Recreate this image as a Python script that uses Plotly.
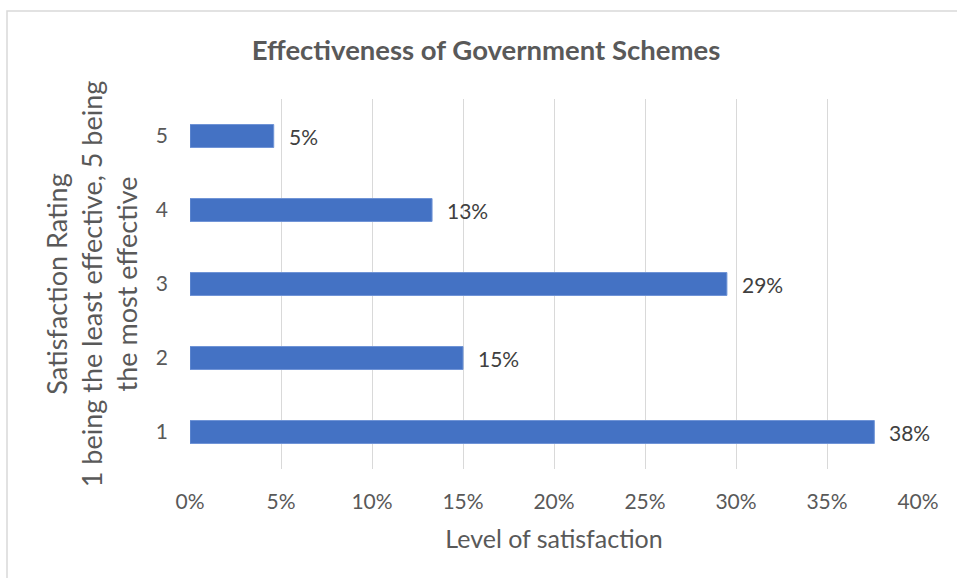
import plotly.graph_objects as go

ratings = ["1", "2", "3", "4", "5"]
shares = [0.376, 0.150, 0.295, 0.133, 0.046]
labels = ["38%", "15%", "29%", "13%", "5%"]
x_ticks = [0, 0.05, 0.10, 0.15, 0.20, 0.25, 0.30, 0.35, 0.40]
x_tick_labels = ["0%", "5%", "10%", "15%", "20%", "25%", "30%", "35%", "40%"]

title_text = "Effectiveness of Government Schemes"
x_title = "Level of satisfaction"
y_title = "Satisfaction Rating<br>1 being the least effective, 5 being<br>the most effective"

FONT = "Lato"
GREY = "#595959"

fig = go.Figure()
fig.add_trace(go.Bar(
    y=ratings, x=shares, orientation="h",
    marker=dict(color="#4472C4", line=dict(color="#6F94D6", width=1)),
    hoverinfo="skip",
))

# data labels placed at each bar's category index and value
for i, (v, t) in enumerate(zip(shares, labels)):
    fig.add_annotation(x=v, y=i, text=t, showarrow=False, xanchor="left",
                       xshift=13, font=dict(family=FONT, size=21, color="#404040"))

fig.update_layout(
    width=957, height=578,
    paper_bgcolor="white", plot_bgcolor="white",
    margin=dict(l=190, r=39, t=99, b=109),
    bargap=0.69,
    showlegend=False,
    title=dict(text="<b>" + title_text + "</b>", x=486 / 957, xref="container", xanchor="center",
               y=1 - 50 / 578, yanchor="middle",
               font=dict(family=FONT, size=27.5, color=GREY)),
    xaxis=dict(range=[0, 0.40], tickvals=x_ticks, ticktext=x_tick_labels,
               showgrid=True, gridcolor="#D9D9D9", gridwidth=1,
               zeroline=False, showline=False, ticks="",
               ticklabelstandoff=18,
               tickfont=dict(family=FONT, size=21, color=GREY),
               title=dict(text=x_title, standoff=18,
                          font=dict(family=FONT, size=25, color=GREY))),
    yaxis=dict(categoryorder="array", categoryarray=ratings,
               showgrid=False, zeroline=False, showline=False, ticks="",
               ticklabelstandoff=21,
               tickfont=dict(family=FONT, size=21, color=GREY),
               title=dict(text=y_title, standoff=10,
                          font=dict(family=FONT, size=27, color=GREY))),
    shapes=[dict(type="rect", xref="paper", yref="paper",
                 x0=(7 - 190) / 728, x1=1.2, y0=-0.5, y1=(469 - 11) / 370,
                 line=dict(color="#D9D9D9", width=1.5), fillcolor="rgba(0,0,0,0)",
                 layer="below")],
)

fig.write_html("out.html", config={"displayModeBar": False},
               post_script="document.body.style.margin='0';")
